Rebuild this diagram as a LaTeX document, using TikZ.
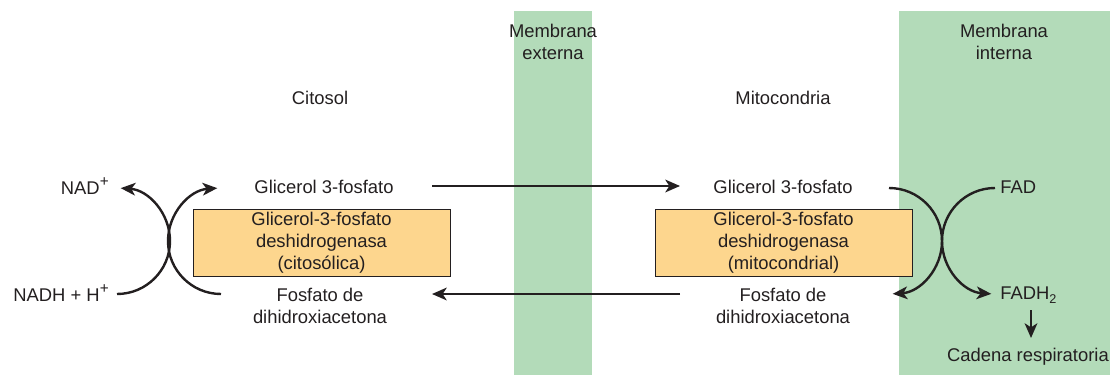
\documentclass[tikz,border=0pt]{standalone}
\usepackage{fontspec}
\setmainfont{Liberation Sans}
\usetikzlibrary{arrows.meta}
\definecolor{memgreen}{RGB}{179,219,185}
\definecolor{enzyellow}{RGB}{253,214,142}
\definecolor{txt}{RGB}{35,31,32}
\newcommand{\plusup}{\raisebox{0.42em}{\fontsize{11.5}{11.5}\selectfont +}}
\newcommand{\subtwo}{\raisebox{-0.25em}{\fontsize{9.5}{9.5}\selectfont 2}}
\begin{document}
\begin{tikzpicture}[x=0.75pt,y=-0.75pt,
  every node/.style={text=txt,font=\fontsize{13.8}{16.5}\selectfont,inner sep=0pt,align=center},
  flow/.style={draw=txt,line width=1.8pt,-{Stealth[length=11pt,width=9.5pt,inset=3pt]}},
  enzyme/.style={draw=txt,line width=0.6pt,fill=enzyellow,minimum width=257*0.75pt,minimum height=67*0.75pt},
  membrane/.style={fill=memgreen,draw=none}]
\useasboundingbox (0,0) rectangle (1110,375);
\clip (0,0) rectangle (1110,375);
% membranes
\fill[membrane] (514,11) rectangle (592,375);
\fill[membrane] (899,11) rectangle (1110,375);
\node (mext) at (553,42) {Membrana\\externa};
\node (mint) at (1004,42) {Membrana\\interna};
\node (cito) at (320,98) {Citosol};
\node (mito) at (783,98) {Mitocondria};
% enzymes
\node[enzyme] (enz1) at (321.5,242.5) {Glicerol-3-fosfato\\deshidrogenasa\\(citosólica)};
\node[enzyme] (enz2) at (783.5,242.5) {Glicerol-3-fosfato\\deshidrogenasa\\(mitocondrial)};
% metabolites
\node (g3p1) at (324,187) {Glicerol 3-fosfato};
\node (g3p2) at (783,187) {Glicerol 3-fosfato};
\node (dhap1) at (320,306) {Fosfato de\\dihidroxiacetona};
\node (dhap2) at (783,306) {Fosfato de\\dihidroxiacetona};
\node[anchor=east] (nad) at (109,186) {NAD\plusup};
\node[anchor=east] (nadh) at (109,293) {NADH + H\plusup};
\node[anchor=west] (fad) at (1000,187) {FAD};
\node[anchor=west] (fadh) at (1000,295) {FADH\subtwo};
\node (cad) at (1028,357) {Cadena respiratoria};
% coordinates
\coordinate (a1s) at (432,186);
\coordinate (a1e) at (680,186);
\coordinate (a2s) at (680,294);
\coordinate (a2e) at (432,294);
\coordinate (l1) at (117,294);
\coordinate (l2) at (221,294);
\coordinate (r1) at (889,188);
\coordinate (r2) at (995,188);
\coordinate (f1) at (1031,310);
\coordinate (f2) at (1031,338);
% straight arrows
\draw[flow] (a1s) -- (a1e);
\draw[flow] (a2s) -- (a2e);
% left kissing arcs
\draw[flow] (l1) arc[start angle=90,end angle=-86,radius=53];
\draw[flow] (l2) arc[start angle=90,end angle=266,radius=53];
% right kissing arcs
\draw[flow] (r1) arc[start angle=-90,end angle=86,radius=53];
\draw[flow] (r2) arc[start angle=-90,end angle=-266,radius=53];
% FADH2 to chain
\draw[flow] (f1) -- (f2);
\end{tikzpicture}
\end{document}
